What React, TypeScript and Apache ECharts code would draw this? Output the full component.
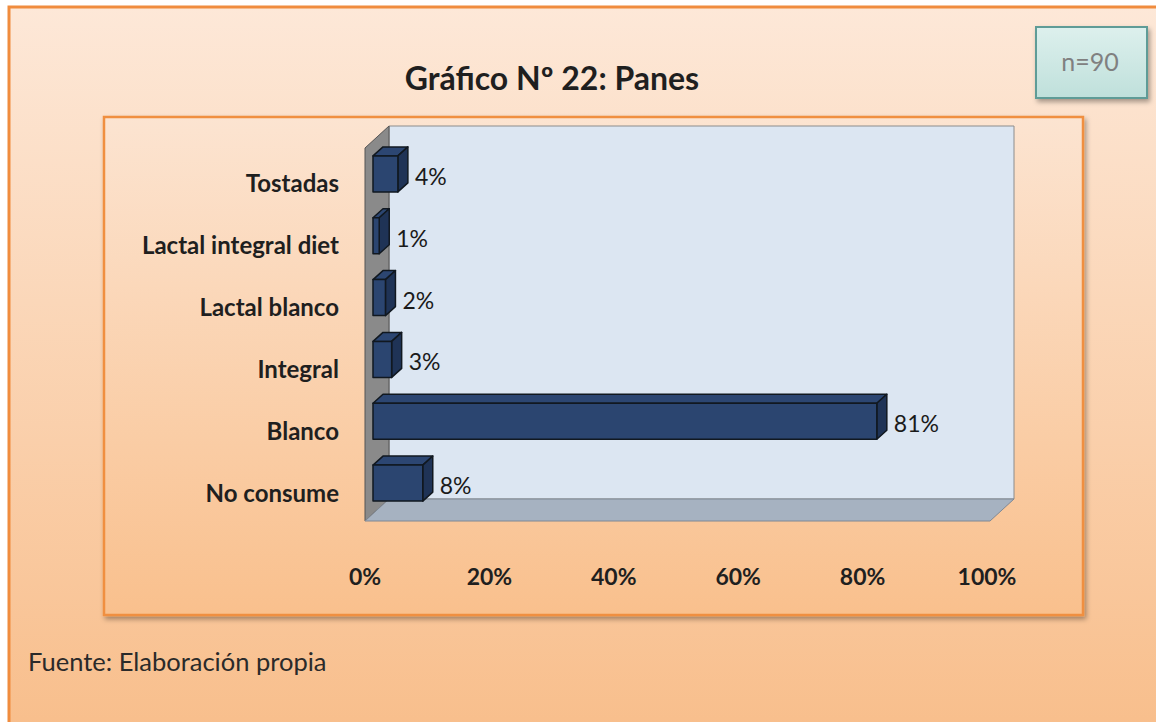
import React, { useEffect, useRef } from "react";
import * as echarts from "echarts";

const categories = ["Tostadas", "Lactal integral diet", "Lactal blanco", "Integral", "Blanco", "No consume"];
const values = [4, 1, 2, 3, 81, 8];
const xTicks = { min: 0, max: 100, interval: 20 };
const titleText = "Gráfico Nº 22: Panes";
const sampleText = "n=90";
const sourceText = "Fuente: Elaboración propia";

const FONT = "Lato, 'Open Sans', sans-serif";

export default function App() {
  const ref = useRef<HTMLDivElement>(null);
  useEffect(() => {
    if (!ref.current) return;
    const chart = echarts.init(ref.current, null, { renderer: "svg" });

    const vGrad = (a: string, b: string) => ({
      type: "linear", x: 0, y: 0, x2: 0, y2: 1,
      colorStops: [{ offset: 0, color: a }, { offset: 1, color: b }],
    });

    const wallsRender = (params: any, api: any) => {
      const cs = params.coordSys;
      const fl = cs.x - 8, fr = cs.x + cs.width - 5;
      const ft = cs.y - 4, fb = cs.y + cs.height - 2;
      const dx = 24, dy = -22;
      return {
        type: "group",
        children: [
          { type: "rect", shape: { x: fl + dx, y: ft + dy, width: fr - fl, height: fb - ft }, style: { fill: "#DCE6F2", stroke: "#8C8C8C", lineWidth: 1 } },
          { type: "polygon", shape: { points: [[fl, ft], [fl + dx, ft + dy], [fl + dx, fb + dy], [fl, fb]] }, style: { fill: "#8A8A8A", stroke: "#555", lineWidth: 1 } },
          { type: "polygon", shape: { points: [[fl, fb], [fr, fb], [fr + dx, fb + dy], [fl + dx, fb + dy]] }, style: { fill: "#A6B2C1", stroke: "#7F8894", lineWidth: 1 } },
        ],
      };
    };

    const barsRender = (params: any, api: any) => {
      const v = api.value(0);
      const ci = api.value(1);
      const p0 = api.coord([0, ci]);
      const p1 = api.coord([v, ci]);
      const h = 36, dx = 10, dy = -9;
      const cy = p0[1] - 9;
      const x0 = p0[0], x1 = p1[0];
      const t = cy - h / 2, b = cy + h / 2;
      const stroke = { stroke: "#111820", lineWidth: 1.5, lineJoin: "round" };
      return {
        type: "group",
        children: [
          { type: "polygon", shape: { points: [[x0, t], [x1, t], [x1 + dx, t + dy], [x0 + dx, t + dy]] }, style: { fill: "#2C4672", ...stroke } },
          { type: "polygon", shape: { points: [[x1, t], [x1 + dx, t + dy], [x1 + dx, b + dy], [x1, b]] }, style: { fill: "#1F3356", ...stroke } },
          { type: "rect", shape: { x: x0, y: t, width: x1 - x0, height: h }, style: { fill: "#2B4570", ...stroke } },
          { type: "text", style: { x: x1 + dx + 7, y: cy + 2, text: v + "%", fill: "#1A1A1A", font: `23px ${FONT}`, verticalAlign: "middle", align: "left" } },
        ],
      };
    };

    chart.setOption({
      animation: false,
      graphic: [
        { type: "rect", z: -20, shape: { x: 9, y: 7, width: 1160, height: 730 }, style: { fill: vGrad("#FDE8D8", "#F8BE8B"), stroke: "#F08C3E", lineWidth: 3 } },
        { type: "rect", z: -19, shape: { x: 104, y: 117, width: 979, height: 498 }, style: { fill: vGrad("#FCE4D1", "#F9C08D"), stroke: "#F08F40", lineWidth: 2.5, shadowBlur: 5, shadowColor: "rgba(0,0,0,0.35)", shadowOffsetX: 2, shadowOffsetY: 3 } },
        { type: "rect", z: -18, shape: { x: 1036, y: 27, width: 111, height: 71 }, style: { fill: vGrad("#DDF0ED", "#BFE0DB"), stroke: "#5F9C97", lineWidth: 2, shadowBlur: 5, shadowColor: "rgba(0,0,0,0.35)", shadowOffsetX: 2, shadowOffsetY: 3 } },
        { type: "text", z: 10, style: { x: 1090, y: 61, text: sampleText, fill: "#808080", font: `25px ${FONT}`, align: "center", verticalAlign: "middle" } },
        { type: "text", z: 10, style: { x: 552, y: 77, text: titleText, fill: "#1F1F1F", font: `bold 32px ${FONT}`, align: "center", verticalAlign: "middle" } },
        { type: "text", z: 10, style: { x: 28, y: 661, text: sourceText, fill: "#2A2A2A", font: `25.5px ${FONT}`, align: "left", verticalAlign: "middle" } },
      ],
      grid: { left: 373, width: 622, top: 152, height: 371, containLabel: false },
      xAxis: {
        type: "value", min: xTicks.min, max: xTicks.max, interval: xTicks.interval,
        axisLine: { show: false }, axisTick: { show: false }, splitLine: { show: false },
        axisLabel: { formatter: "{value}%", color: "#1F1F1F", fontFamily: FONT, fontWeight: "bold", fontSize: 23, margin: 41, padding: [0, 16, 0, 0] },
      },
      yAxis: {
        type: "category", inverse: true, data: categories,
        axisLine: { show: false }, axisTick: { show: false }, splitLine: { show: false },
        axisLabel: { color: "#1F1F1F", fontFamily: FONT, fontWeight: "bold", fontSize: 24, margin: 34 },
      },
      series: [
        { type: "custom", name: "walls", data: [[0, 0]], renderItem: wallsRender, z: 1, silent: true },
        { type: "custom", name: "Panes", data: values.map((v, i) => [v, i]), renderItem: barsRender, z: 3, encode: { x: 0, y: 1 } },
      ],
    });
    return () => chart.dispose();
  }, []);
  return <div ref={ref} style={{ position: "absolute", left: 0, top: 0, width: 1156, height: 722 }} />;
}
